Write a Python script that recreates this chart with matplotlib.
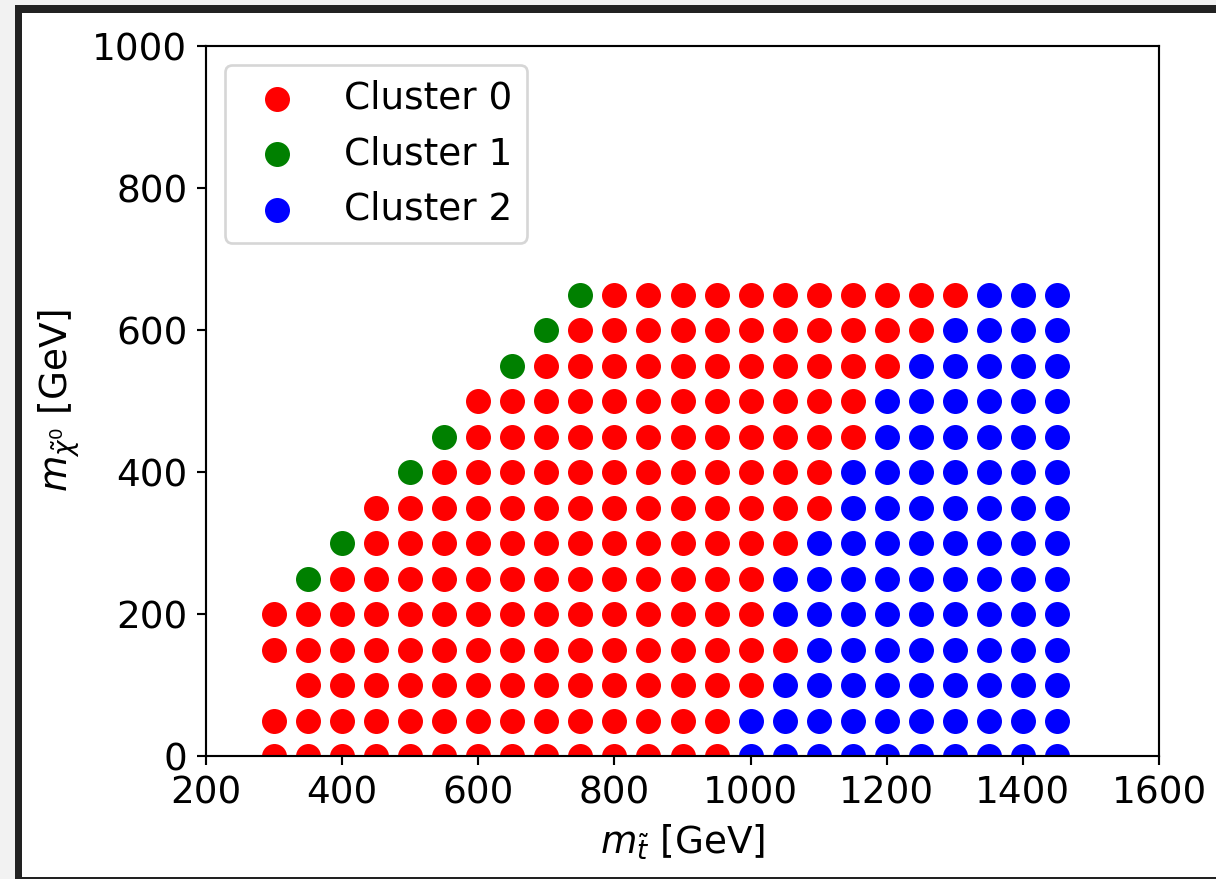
import matplotlib
matplotlib.use("Agg")
import matplotlib.pyplot as plt
from matplotlib.patches import Rectangle

# stop mass grid (GeV) and neutralino mass rows (GeV)
m_stop = [300, 350, 400, 450, 500, 550, 600, 650, 700, 750, 800, 850,
          900, 950, 1000, 1050, 1100, 1150, 1200, 1250, 1300, 1350, 1400, 1450]
m_lsp = [650, 600, 550, 500, 450, 400, 350, 300, 250, 200, 150, 100, 50, 0]

# cluster id of each grid point, one string per m_lsp row ('.' = no point)
cluster_rows = [
    ".........100000000000222",
    "........1000000000002222",
    ".......10000000000022222",
    "......000000000000222222",
    ".....1000000000000222222",
    "....10000000000002222222",
    "...000000000000002222222",
    "..1000000000000022222222",
    ".10000000000000222222222",
    "000000000000000222222222",
    "000000000000000022222222",
    ".00000000000000222222222",
    "000000000000002222222222",
    "000000000000002222222222",
]

cluster_names = ["Cluster 0", "Cluster 1", "Cluster 2"]
cluster_colors = ["red", "green", "blue"]

plt.rcParams["font.size"] = 14

fig = plt.figure(figsize=(1216 / 192, 879 / 192), dpi=192)
fig.patch.set_facecolor("#f2f2f2")
# dark window frame around the white canvas
fig.patches.append(Rectangle((15 / 1216, 0), 1, 874 / 879, transform=fig.transFigure,
                             facecolor="#222222", edgecolor="none", zorder=-10))
fig.patches.append(Rectangle((22 / 1216, 2 / 879), 1, 864 / 879, transform=fig.transFigure,
                             facecolor="white", edgecolor="none", zorder=-9))

ax = fig.add_axes([206 / 1216, 1 - 756 / 879, 953 / 1216, 710 / 879])

for k in range(len(cluster_names)):
    xs, ys = [], []
    for y, row in zip(m_lsp, cluster_rows):
        for x, c in zip(m_stop, row):
            if c == str(k):
                xs.append(x)
                ys.append(y)
    ax.scatter(xs, ys, s=70, c=cluster_colors[k], label=cluster_names[k])

ax.set_xlim(200, 1600)
ax.set_ylim(0, 1000)
ax.set_xlabel(r"$m_{\tilde{t}}$ [GeV]")
ax.set_ylabel(r"$m_{\tilde{\chi}^0}$ [GeV]")
ax.legend(loc="upper left")

fig.savefig("out.png", dpi=192, facecolor=fig.get_facecolor())
